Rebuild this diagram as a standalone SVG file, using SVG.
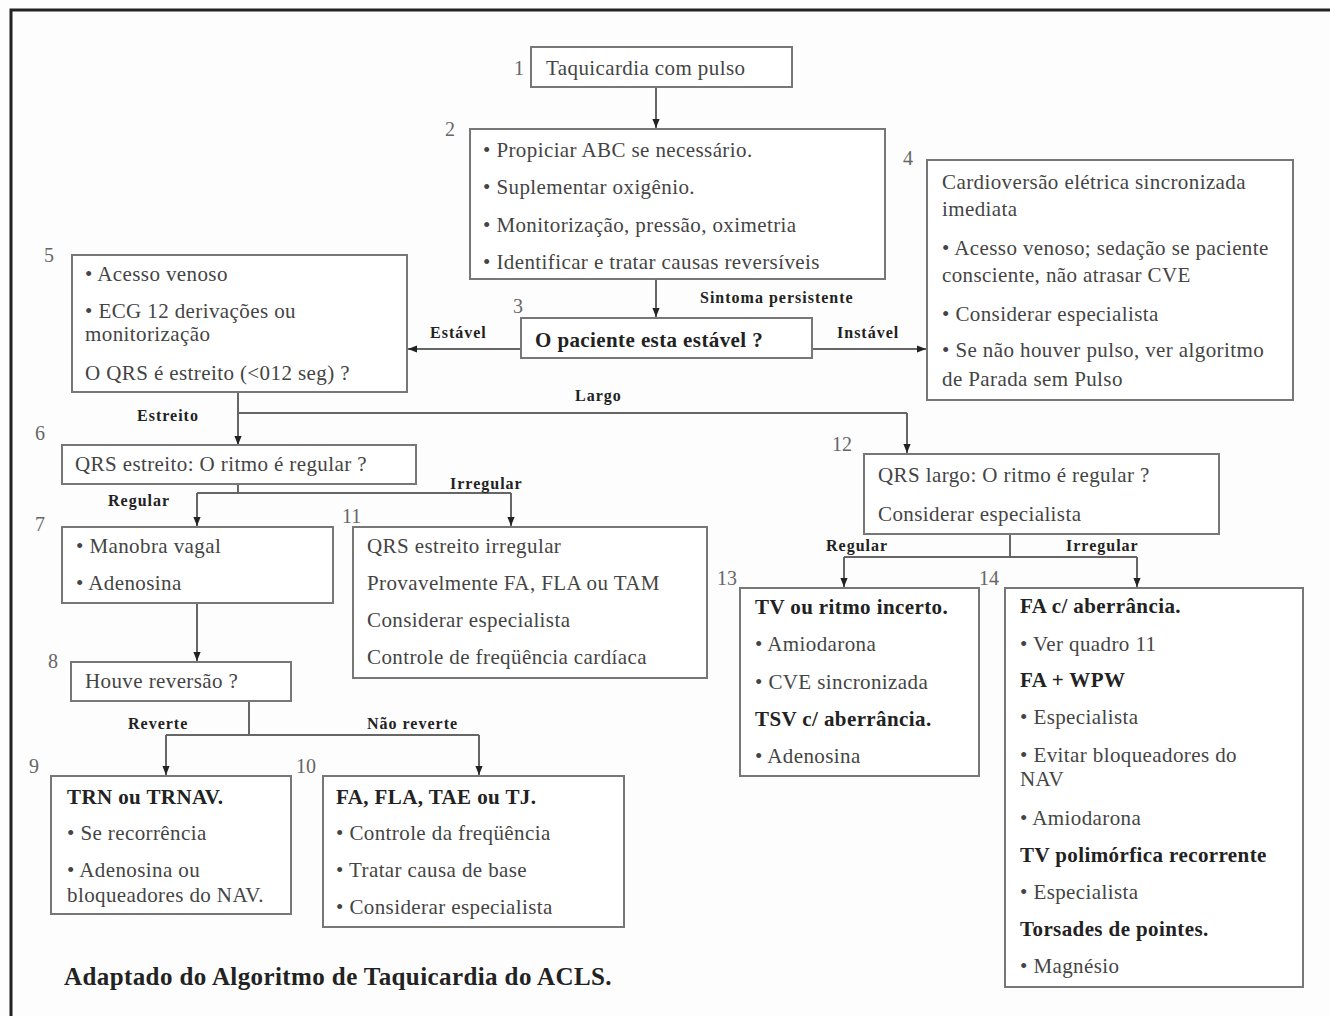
<svg xmlns="http://www.w3.org/2000/svg" width="1330" height="1016" viewBox="0 0 1330 1016">
<style>
.bx{fill:#fff;stroke:#777;stroke-width:2}
.t{font-family:"Liberation Serif","Times New Roman",serif;font-size:21px;letter-spacing:0.4px;fill:#444}
.h{font-family:"Liberation Serif","Times New Roman",serif;font-size:21px;letter-spacing:0.4px;font-weight:bold;fill:#222}
.l{font-family:"Liberation Serif","Times New Roman",serif;font-size:16px;letter-spacing:1px;font-weight:bold;fill:#222}
.n{font-family:"Liberation Serif","Times New Roman",serif;font-size:20px;fill:#666}
.c{stroke:#666;stroke-width:2;fill:none}
.a{stroke:#666;stroke-width:2;fill:none;marker-end:url(#ah)}
</style>
<defs>
<marker id="ah" viewBox="0 0 10 10" refX="10" refY="5" markerWidth="9" markerHeight="9" markerUnits="userSpaceOnUse" orient="auto"><path d="M0,1 L10,5 L0,9 Z" fill="#222"/></marker>
</defs>
<rect x="0" y="0" width="1330" height="1016" fill="#fdfdfd"/>
<path d="M11,1016 V10 H1330" stroke="#222" stroke-width="3" fill="none"/>

<g id="connectors">
<path class="a" d="M656,88 V128"/>
<path class="a" d="M656,279 V317"/>
<path class="a" d="M521,349 H408"/>
<path class="a" d="M812,349 H926"/>
<path class="a" d="M238,392 V445"/>
<path class="c" d="M238,413 H907"/>
<path class="a" d="M907,413 V453"/>
<path class="c" d="M238,484 V493"/>
<path class="c" d="M197,493 H511"/>
<path class="a" d="M197,493 V526"/>
<path class="a" d="M511,493 V526"/>
<path class="a" d="M197,603 V661"/>
<path class="c" d="M249,701 V735"/>
<path class="c" d="M166,735 H479"/>
<path class="a" d="M166,735 V775"/>
<path class="a" d="M479,735 V775"/>
<path class="c" d="M1010,534 V557"/>
<path class="c" d="M844,557 H1137"/>
<path class="a" d="M844,557 V587"/>
<path class="a" d="M1137,557 V587"/>
<text class="l" x="700" y="303">Sintoma persistente</text>
<text class="l" x="430" y="338">Estável</text>
<text class="l" x="837" y="338">Instável</text>
<text class="l" x="137" y="421">Estreito</text>
<text class="l" x="575" y="401">Largo</text>
<text class="l" x="108" y="506">Regular</text>
<text class="l" x="450" y="489">Irregular</text>
<text class="l" x="128" y="729">Reverte</text>
<text class="l" x="367" y="729">Não reverte</text>
<text class="l" x="826" y="551">Regular</text>
<text class="l" x="1066" y="551">Irregular</text>
</g>

<g id="n1">
<rect class="bx" x="531" y="47" width="261" height="40"/>
<text class="n" x="514" y="75">1</text>
<text class="t" x="546" y="75">Taquicardia com pulso</text>
</g>
<g id="n2">
<rect class="bx" x="470" y="129" width="415" height="150"/>
<text class="n" x="445" y="136">2</text>
<text class="t" x="483" y="157">• Propiciar ABC se necessário.</text>
<text class="t" x="483" y="194">• Suplementar oxigênio.</text>
<text class="t" x="483" y="232">• Monitorização, pressão, oximetria</text>
<text class="t" x="483" y="269">• Identificar e tratar causas reversíveis</text>
</g>
<g id="n3">
<rect class="bx" x="521" y="318" width="291" height="40"/>
<text class="n" x="513" y="313">3</text>
<text class="h" x="535" y="347">O paciente esta estável ?</text>
</g>
<g id="n4">
<rect class="bx" x="927" y="160" width="366" height="240"/>
<text class="n" x="903" y="165">4</text>
<text class="t" x="942" y="189">Cardioversão elétrica sincronizada</text>
<text class="t" x="942" y="216">imediata</text>
<text class="t" x="942" y="255">• Acesso venoso; sedação se paciente</text>
<text class="t" x="942" y="282">consciente, não atrasar CVE</text>
<text class="t" x="942" y="321">• Considerar especialista</text>
<text class="t" x="942" y="357">• Se não houver pulso, ver algoritmo</text>
<text class="t" x="942" y="386">de Parada sem Pulso</text>
</g>
<g id="n5">
<rect class="bx" x="72" y="255" width="335" height="137"/>
<text class="n" x="44" y="262">5</text>
<text class="t" x="85" y="281">• Acesso venoso</text>
<text class="t" x="85" y="318">• ECG 12 derivações ou</text>
<text class="t" x="85" y="341">monitorização</text>
<text class="t" x="85" y="380">O QRS é estreito (&lt;012 seg) ?</text>
</g>
<g id="n6">
<rect class="bx" x="62" y="445" width="354" height="39"/>
<text class="n" x="35" y="440">6</text>
<text class="t" x="75" y="471">QRS estreito: O ritmo é regular ?</text>
</g>
<g id="n7">
<rect class="bx" x="62" y="527" width="271" height="76"/>
<text class="n" x="35" y="531">7</text>
<text class="t" x="76" y="553">• Manobra vagal</text>
<text class="t" x="76" y="590">• Adenosina</text>
</g>
<g id="n8">
<rect class="bx" x="71" y="662" width="220" height="39"/>
<text class="n" x="48" y="668">8</text>
<text class="t" x="85" y="688">Houve reversão ?</text>
</g>
<g id="n9">
<rect class="bx" x="51" y="776" width="240" height="138"/>
<text class="n" x="29" y="773">9</text>
<text class="h" x="67" y="804">TRN ou TRNAV.</text>
<text class="t" x="67" y="840">• Se recorrência</text>
<text class="t" x="67" y="877">• Adenosina ou</text>
<text class="t" x="67" y="902">bloqueadores do NAV.</text>
</g>
<g id="n10">
<rect class="bx" x="323" y="776" width="301" height="151"/>
<text class="n" x="296" y="773">10</text>
<text class="h" x="336" y="804">FA, FLA, TAE ou TJ.</text>
<text class="t" x="336" y="840">• Controle da freqüência</text>
<text class="t" x="336" y="877">• Tratar causa de base</text>
<text class="t" x="336" y="914">• Considerar especialista</text>
</g>
<g id="n11">
<rect class="bx" x="353" y="527" width="354" height="151"/>
<text class="n" x="342" y="523">11</text>
<text class="t" x="367" y="553">QRS estreito irregular</text>
<text class="t" x="367" y="590">Provavelmente FA, FLA ou TAM</text>
<text class="t" x="367" y="627">Considerar especialista</text>
<text class="t" x="367" y="664">Controle de freqüência cardíaca</text>
</g>
<g id="n12">
<rect class="bx" x="864" y="454" width="355" height="80"/>
<text class="n" x="832" y="451">12</text>
<text class="t" x="878" y="482">QRS largo: O ritmo é regular ?</text>
<text class="t" x="878" y="521">Considerar especialista</text>
</g>
<g id="n13">
<rect class="bx" x="740" y="588" width="239" height="188"/>
<text class="n" x="717" y="585">13</text>
<text class="h" x="755" y="614">TV ou ritmo incerto.</text>
<text class="t" x="755" y="651">• Amiodarona</text>
<text class="t" x="755" y="689">• CVE sincronizada</text>
<text class="h" x="755" y="726">TSV c/ aberrância.</text>
<text class="t" x="755" y="763">• Adenosina</text>
</g>
<g id="n14">
<rect class="bx" x="1005" y="588" width="298" height="399"/>
<text class="n" x="979" y="585">14</text>
<text class="h" x="1020" y="613">FA c/ aberrância.</text>
<text class="t" x="1020" y="651">• Ver  quadro 11</text>
<text class="h" x="1020" y="687">FA + WPW</text>
<text class="t" x="1020" y="724">• Especialista</text>
<text class="t" x="1020" y="762">• Evitar bloqueadores do</text>
<text class="t" x="1020" y="786">NAV</text>
<text class="t" x="1020" y="825">• Amiodarona</text>
<text class="h" x="1020" y="862">TV polimórfica recorrente</text>
<text class="t" x="1020" y="899">• Especialista</text>
<text class="h" x="1020" y="936">Torsades de pointes.</text>
<text class="t" x="1020" y="973">• Magnésio</text>
</g>
<text x="64" y="985" style="font-family:'Liberation Serif','Times New Roman',serif;font-size:25px;letter-spacing:0.4px;font-weight:bold;fill:#222">Adaptado do Algoritmo de Taquicardia do ACLS.</text>
</svg>
